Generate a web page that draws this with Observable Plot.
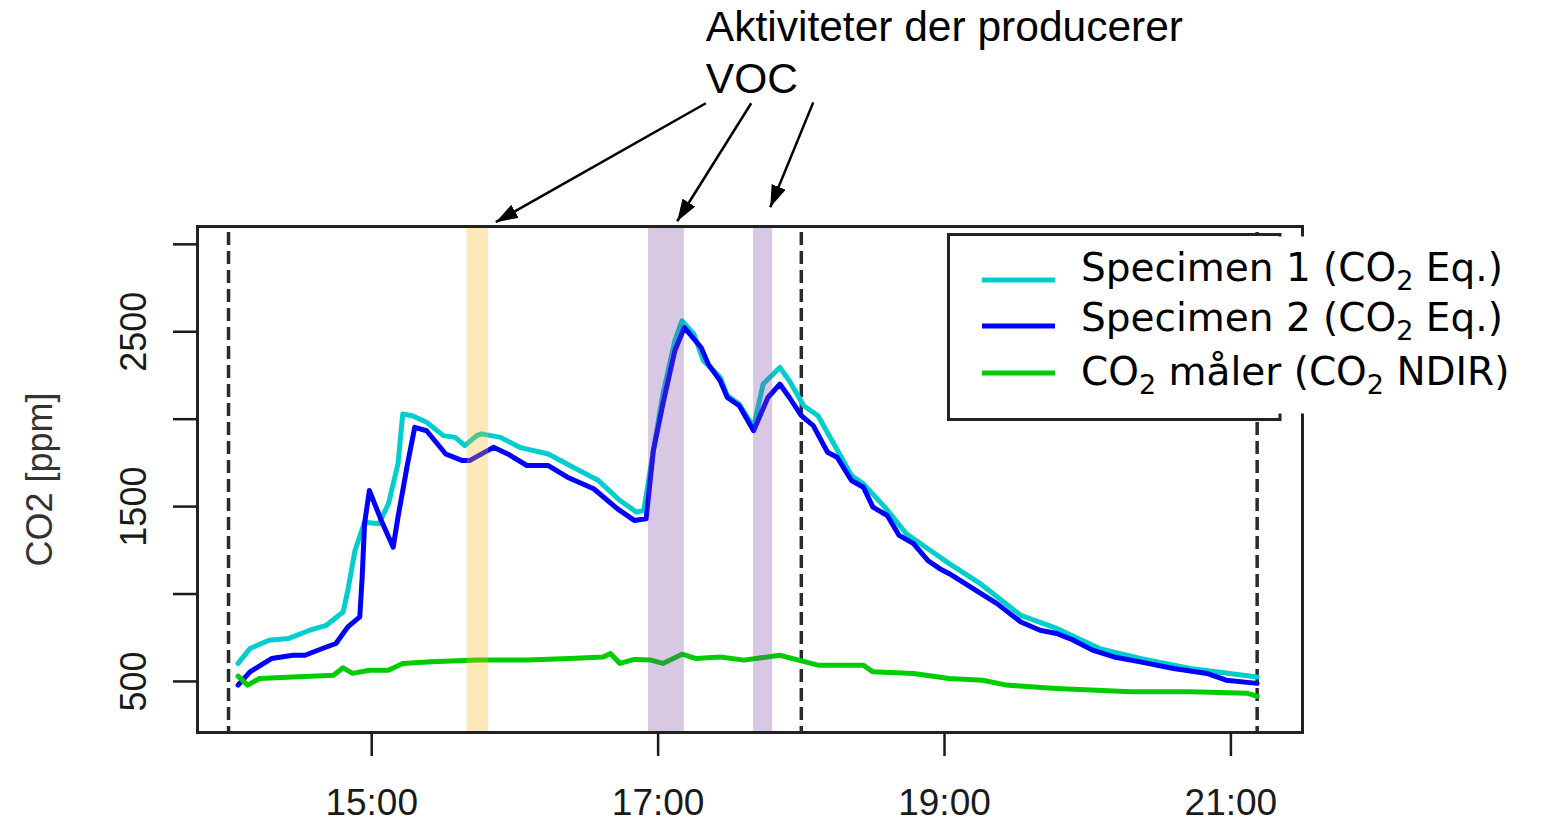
<!DOCTYPE html>
<html>
<head>
<meta charset="utf-8">
<script src="https://cdn.jsdelivr.net/npm/d3@7"></script>
<script src="https://cdn.jsdelivr.net/npm/@observablehq/plot@0.6"></script>
<style>
  html, body { margin: 0; padding: 0; background: #fff; }
  #chart { width: 1545px; height: 824px; overflow: hidden; }
</style>
</head>
<body>
<div id="chart"></div>
<script>
// ---------- data (time "HH:MM", CO2 ppm) ----------
const specimen1 = [
  ["14:04", 603], ["14:09", 688], ["14:17", 736], ["14:25", 745], ["14:34", 793],
  ["14:41", 821], ["14:48", 897], ["14:50", 1021], ["14:53", 1249], ["14:57", 1411],
  ["15:03", 1402], ["15:07", 1516], ["15:11", 1744], ["15:13", 2030], ["15:17", 2020],
  ["15:23", 1982], ["15:30", 1906], ["15:35", 1896], ["15:39", 1849], ["15:44", 1906],
  ["15:46", 1916], ["15:54", 1896], ["16:02", 1839], ["16:14", 1801], ["16:23", 1735],
  ["16:35", 1649], ["16:44", 1535], ["16:51", 1468], ["16:54", 1478], ["16:58", 1820],
  ["17:02", 2144], ["17:07", 2448], ["17:10", 2562], ["17:15", 2486], ["17:19", 2334],
  ["17:26", 2239], ["17:29", 2135], ["17:34", 2085], ["17:40", 1955], ["17:44", 2201],
  ["17:51", 2296], ["17:55", 2220], ["18:01", 2077], ["18:07", 2020], ["18:14", 1849],
  ["18:21", 1678], ["18:26", 1630], ["18:35", 1497], ["18:44", 1345], ["18:55", 1240],
  ["19:02", 1174], ["19:15", 1059], ["19:32", 878], ["19:47", 803], ["20:05", 688],
  ["20:22", 631], ["20:43", 574], ["21:11", 526]
];
const specimen2 = [
  ["14:04", 479], ["14:09", 555], ["14:18", 631], ["14:27", 650], ["14:32", 650],
  ["14:41", 697], ["14:45", 717], ["14:50", 812], ["14:55", 869], ["14:56", 1097],
  ["14:57", 1402], ["14:59", 1592], ["15:04", 1421], ["15:09", 1268], ["15:11", 1439],
  ["15:15", 1744], ["15:18", 1953], ["15:23", 1934], ["15:31", 1801], ["15:38", 1763],
  ["15:41", 1763], ["15:51", 1839], ["15:57", 1801], ["16:05", 1735], ["16:14", 1735],
  ["16:22", 1668], ["16:33", 1602], ["16:43", 1487], ["16:50", 1421], ["16:55", 1430],
  ["16:58", 1820], ["17:02", 2087], ["17:07", 2391], ["17:11", 2524], ["17:18", 2410],
  ["17:21", 2315], ["17:26", 2220], ["17:29", 2124], ["17:34", 2077], ["17:40", 1934],
  ["17:46", 2124], ["17:51", 2201], ["17:55", 2124], ["18:00", 2020], ["18:05", 1963],
  ["18:11", 1811], ["18:15", 1782], ["18:21", 1649], ["18:26", 1611], ["18:30", 1497],
  ["18:36", 1449], ["18:41", 1335], ["18:47", 1288], ["18:53", 1192], ["18:58", 1145],
  ["19:02", 1116], ["19:12", 1031], ["19:22", 945], ["19:32", 840], ["19:40", 793],
  ["19:47", 774], ["19:54", 736], ["20:02", 679], ["20:11", 640], ["20:22", 612],
  ["20:36", 574], ["20:50", 546], ["20:58", 507], ["21:11", 489]
];
const co2Meter = [
  ["14:04", 530], ["14:08", 479], ["14:13", 517], ["14:27", 526], ["14:44", 536],
  ["14:48", 578], ["14:52", 546], ["14:59", 564], ["15:07", 564], ["15:13", 603],
  ["15:25", 612], ["15:44", 622], ["16:05", 622], ["16:23", 631], ["16:37", 640],
  ["16:40", 660], ["16:44", 603], ["16:50", 626], ["16:57", 622], ["17:02", 603],
  ["17:10", 656], ["17:16", 631], ["17:26", 640], ["17:36", 622], ["17:51", 650],
  ["18:00", 618], ["18:07", 593], ["18:26", 593], ["18:30", 555], ["18:47", 546],
  ["19:02", 517], ["19:16", 507], ["19:26", 479], ["19:47", 460], ["20:18", 441],
  ["20:43", 441], ["21:07", 432], ["21:11", 416]
];

// activity bands (start, end)
const vocBandsYellow = [["15:40", "15:49"]];
const vocBandsPurple = [["16:56", "17:11"], ["17:40", "17:48"]];
// dashed vertical markers
const dashedTimes = ["14:00", "18:00", "21:11"];

// axes
const xDomain = ["13:47", "21:30"];
const yDomain = [208, 3102];
const xTicks = ["15:00", "17:00", "19:00", "21:00"];
const yTicks = [500, 1000, 1500, 2000, 2500, 3000];
const yTickLabels = [500, 1500, 2500];
const yAxisTitle = "CO2 [ppm]";

// annotation: text anchor and arrows (from -> to), in time / ppm
const annotationText = "Aktiviteter der producerer\nVOC";
const annotationAnchor = ["17:20", 3868];
const annotationArrows = [
  ["17:20", 3807, "15:52", 3127],
  ["17:39", 3807, "17:08", 3132],
  ["18:05", 3812, "17:47", 3212]
];

// legend
const seriesNames = ["Specimen 1 (CO_2 Eq.)", "Specimen 2 (CO_2 Eq.)", "CO_2 måler (CO_2 NDIR)"];
const seriesColors = ["#00cdcd", "#0000ff", "#00cd00"];

// ---------- build ----------
const parse = d3.utcParse("%H:%M");
const toRows = arr => arr.map(([t, v]) => ({t: parse(t), v}));

const plot = Plot.plot({
  width: 1545,
  height: 824,
  marginLeft: 197,
  marginRight: 243,
  marginTop: 226,
  marginBottom: 92,
  style: {fontFamily: "'Liberation Sans', Arial, sans-serif", background: "#fff", color: "#1a1a1a", overflow: "visible"},
  x: {type: "utc", domain: xDomain.map(parse)},
  y: {domain: yDomain},
  marks: [
    Plot.ruleX(dashedTimes.map(parse), {stroke: "#2a2a2a", strokeWidth: 3.5, strokeDasharray: "13,6", insetTop: 6}),
    Plot.line(toRows(specimen1), {x: "t", y: "v", stroke: seriesColors[0], strokeWidth: 5}),
    Plot.line(toRows(specimen2), {x: "t", y: "v", stroke: seriesColors[1], strokeWidth: 5}),
    Plot.line(toRows(co2Meter), {x: "t", y: "v", stroke: seriesColors[2], strokeWidth: 5}),
    Plot.rect(vocBandsYellow, {x1: d => parse(d[0]), x2: d => parse(d[1]), fill: "#f8b60f", fillOpacity: 0.3}),
    Plot.rect(vocBandsPurple, {x1: d => parse(d[0]), x2: d => parse(d[1]), fill: "#7d48a5", fillOpacity: 0.3}),
    Plot.frame({stroke: "#222", strokeWidth: 3}),
    Plot.axisX({ticks: xTicks.map(parse), tickFormat: "%H:%M", tickSize: 24, tickPadding: 32, fontSize: 37, strokeWidth: 2.5, label: null}),
    Plot.axisY({ticks: yTicks, tickFormat: d => yTickLabels.includes(d) ? String(d) : "", tickSize: 24, tickPadding: 28,
                tickRotate: -90, textAnchor: "middle", lineAnchor: "bottom", fontSize: 36, strokeWidth: 2.5, label: null}),
    Plot.text([yAxisTitle], {text: d => d, frameAnchor: "left", dx: -157, rotate: -90, fontSize: 36,
                textAnchor: "middle", lineAnchor: "middle", fill: "#333"}),
    Plot.text([annotationText], {x: () => parse(annotationAnchor[0]), y: () => annotationAnchor[1], text: d => d,
                textAnchor: "start", lineAnchor: "bottom", lineHeight: 1.22, fontSize: 42.5, fill: "#000"}),
    Plot.link(annotationArrows, {x1: d => parse(d[0]), y1: d => d[1], x2: d => parse(d[2]), y2: d => d[3],
                stroke: "#000", strokeWidth: 2.5})
  ]
});

document.getElementById("chart").appendChild(plot);

// ---------- arrowheads ----------
const svg = d3.select(plot);
const defs = svg.append("defs");
defs.append("marker")
  .attr("id", "ah").attr("viewBox", "0 0 10 10").attr("refX", 10).attr("refY", 5)
  .attr("markerUnits", "userSpaceOnUse").attr("markerWidth", 22).attr("markerHeight", 15)
  .attr("orient", "auto").attr("preserveAspectRatio", "none")
  .append("path").attr("d", "M0,0 L10,5 L0,10 Z").attr("fill", "#000");
svg.selectAll('g[aria-label="link"] path').attr("marker-end", "url(#ah)");

// ---------- legend ----------
const lg = svg.append("g").attr("text-anchor", "start");
lg.append("rect").attr("x", 948.5).attr("y", 234.5).attr("width", 331.5).attr("height", 185)
  .attr("fill", "#fff").attr("stroke", "#222").attr("stroke-width", 3);
const swatchY = [280, 326, 373];
seriesColors.forEach((c, i) => {
  lg.append("line").attr("x1", 982).attr("x2", 1055).attr("y1", swatchY[i]).attr("y2", swatchY[i])
    .attr("stroke", c).attr("stroke-width", 5);
});
lg.append("rect").attr("x", 1081).attr("y", 236.5).attr("width", 464).attr("height", 177).attr("fill", "#fff");
const textBase = [281, 331, 385];
seriesNames.forEach((name, i) => {
  const t = lg.append("text").attr("x", 1081).attr("y", textBase[i]).attr("text-anchor", "start")
    .attr("font-family", "'DejaVu Sans', Verdana, sans-serif").attr("font-size", 39).attr("fill", "#000");
  const parts = name.split("_2");
  parts.forEach((p, j) => {
    if (j > 0) {
      t.append("tspan").attr("font-size", 27).attr("dy", 9).text("2");
      t.append("tspan").attr("dy", -9).text(p);
    } else {
      t.append("tspan").text(p);
    }
  });
});
</script>
</body>
</html>
